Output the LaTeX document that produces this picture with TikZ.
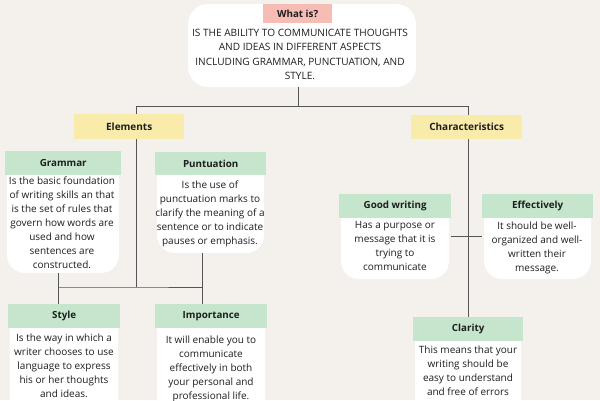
\documentclass[tikz,border=0pt]{standalone}
\usepackage{fontspec}
\setmainfont{Open Sans}
\pgfdeclarelayer{bg}
\pgfdeclarelayer{lines}
\pgfsetlayers{bg,lines,main}
\definecolor{bgc}{HTML}{F4F0EB}
\definecolor{greenc}{HTML}{C5E6CD}
\definecolor{yellowc}{HTML}{F9EBAA}
\definecolor{pinkc}{HTML}{F7BDB5}
\definecolor{txt}{HTML}{1E1E1E}
\definecolor{linec}{HTML}{555555}
\tikzset{
  x=1pt,y=-1pt,
  hdr/.style={fill=greenc, inner sep=0pt, text=txt, font=\fontsize{9.8}{11}\selectfont\bfseries},
  cat/.style={fill=yellowc, inner sep=0pt, text=txt, font=\fontsize{10}{11}\selectfont\bfseries},
  bodytxt/.style={align=center, inner sep=0pt, text=txt, anchor=north, font=\fontsize{10}{14}\selectfont},
  conn/.style={draw=linec, line width=0.7pt},
  blob/.style={fill=white, rounded corners=18pt},
}
\newcommand{\childbox}[7]{% name, x1, x2, ytop, yhdrbot, ybot, header
  \node[hdr, minimum width={#3-#2}, minimum height={#5-#4}, anchor=north west] (#1h) at (#2,#4) {#7};
  \begin{pgfonlayer}{bg}
    \fill[blob] (#2+2,#4) -- (#2+2,#6) -- (#3-2,#6) -- (#3-2,#4) -- cycle;
  \end{pgfonlayer}
  \coordinate (#1b) at ({(#2+#3)/2},#6);
}
\begin{document}
\begin{tikzpicture}
\begin{pgfonlayer}{bg}
\fill[bgc] (0,0) rectangle (600,400);
\end{pgfonlayer}
\useasboundingbox (0,0) rectangle (600,400);

% top box
\begin{pgfonlayer}{bg}
\fill[white, rounded corners=20pt] (188,4) rectangle (416,87);
\end{pgfonlayer}
\coordinate (topb) at (298,87);
\node[fill=pinkc, inner sep=0pt, minimum width=69, minimum height=19, anchor=north west, text=txt, font=\fontsize{9.8}{11}\selectfont\bfseries] (what) at (263,4) {What is?};
\node[bodytxt, font=\fontsize{10.1}{14.3}\selectfont] (whattxt) at (300,29) {IS THE ABILITY TO COMMUNICATE THOUGHTS\\AND IDEAS IN DIFFERENT ASPECTS\\INCLUDING GRAMMAR, PUNCTUATION, AND\\STYLE.};

% categories
\node[cat, minimum width=110, minimum height=25, anchor=north west] (elem) at (74,114) {Elements};
\node[cat, minimum width=111, minimum height=24, anchor=north west] (char) at (411,115) {Characteristics};

% children
\childbox{gram}{5}{121}{151}{175}{273}{Grammar}
\node[bodytxt] (gramt) at (62,176.5) {Is the basic foundation\\of writing skills an that\\is the set of rules that\\govern how words are\\used and how\\sentences are\\constructed.};

\childbox{punt}{155}{266}{152}{175}{253}{Puntuation}
\node[bodytxt] (puntt) at (210,180.5) {Is the use of\\punctuation marks to\\clarify the meaning of a\\sentence or to indicate\\pauses or emphasis.};

\childbox{good}{339}{451}{194}{218}{279}{Good writing}
\node[bodytxt] (goodt) at (395,221.5) {Has a purpose or\\message that it is\\trying to\\communicate};

\childbox{eff}{482}{593}{194}{218}{279}{Effectively}
\node[bodytxt] (efft) at (537,221.5) {It should be well-\\organized and well-\\written their\\message.};

\childbox{sty}{8}{120}{304}{328}{420}{Style}
\node[bodytxt] (styt) at (64,333.5) {Is the way in which a\\writer chooses to use\\language to express\\his or her thoughts\\and ideas.};

\childbox{imp}{155}{267}{304}{328}{420}{Importance}
\node[bodytxt] (impt) at (211,335.5) {It will enable you to\\communicate\\effectively in both\\your personal and\\professional life.};

\childbox{cla}{413}{523}{317}{341}{420}{Clarity}
\node[bodytxt] (clat) at (468,345.5) {This means that your\\writing should be\\easy to understand\\and free of errors};

% connectors
\coordinate (j1) at (298,106);
\coordinate (j2) at (136,287);
\begin{pgfonlayer}{lines}
\draw[conn] (topb) -- (j1);
\draw[conn] (j1) -- (136,106) -- (j2);
\draw[conn] (j1) -- (468,106) -- (clah.north -| 468,0);
\draw[conn] (gramb -| 58,0) -- (styh.north -| 58,0);
\draw[conn] (puntb -| 202,0) -- (imph.north -| 202,0);
\draw[conn] (58,287) -- (j2) -- (202,287);
\draw[conn] (goodh.south east |- 0,236) -- (effh.south west |- 0,236);
\end{pgfonlayer}
\end{tikzpicture}
\end{document}
